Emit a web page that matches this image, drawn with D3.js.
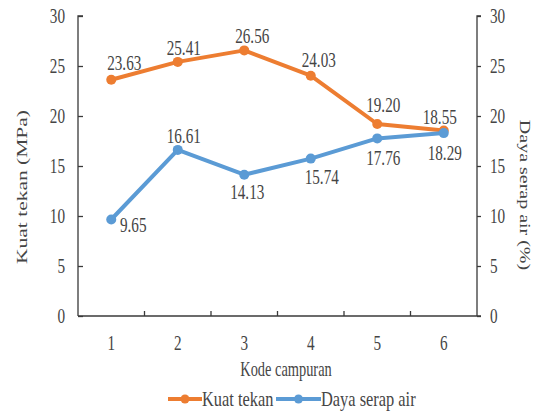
<!DOCTYPE html>
<html><head><meta charset="utf-8">
<script src="https://cdn.jsdelivr.net/npm/d3@7"></script>
<style>body{margin:0;background:#fff}svg{display:block}</style>
</head><body>
<svg id="c" width="539" height="412"></svg>
<script>
const categories = ["1","2","3","4","5","6"];
const kuatTekan = [23.63, 25.41, 26.56, 24.03, 19.20, 18.55];
const dayaSerap = [9.65, 16.61, 14.13, 15.74, 17.76, 18.29];
const yTicks = [0,5,10,15,20,25,30];

const svg = d3.select("#c");
const FONT = "'Liberation Serif','Times New Roman',serif";
const TXT = "#454545";
const SX = 0.76;
const x = d3.scaleBand().domain(categories).range([78, 477]);
const yL = d3.scaleLinear().domain([0,30]).range([316, 16]);
const yR = d3.scaleLinear().domain([0,30]).range([316, 16]);
const cx = d => x(d) + x.bandwidth()/2;

// data label placement (offset of label centre from its point, px)
const kuatLabelOff = [[13,-17],[6,-14],[8,-14],[8,-16],[6,-19],[-4,-14]];
const dayaLabelOff = [[22,5],[6,-14],[3,17],[11,18],[6,20],[1,20]];

function txt(g, s, tx, ty, anchor, size, sx, rot) {
  const t = g.append("text").text(s)
    .attr("font-family", FONT).attr("font-size", size || 20)
    .attr("fill", TXT).attr("text-anchor", anchor || "middle");
  if (rot) t.attr("transform", `translate(${tx},${ty}) rotate(${rot}) scale(1,${sx||SX})`);
  else t.attr("transform", `translate(${tx},${ty}) scale(${sx||SX},1)`);
  return t;
}

// left axis
const gL = svg.append("g").attr("transform","translate(78,0)")
  .call(d3.axisRight(yL).tickValues(yTicks).tickSize(5).tickFormat(""));
gL.select(".domain").attr("stroke","#3a3a3a").attr("stroke-width",1.3).attr("d","M5,16H0V316");
gL.selectAll(".tick line").attr("stroke","#3a3a3a").attr("stroke-width",1.3);
// right axis
const gR = svg.append("g").attr("transform","translate(477,0)")
  .call(d3.axisRight(yR).tickValues(yTicks).tickSize(4).tickFormat(""));
gR.select(".domain").attr("stroke","#3a3a3a").attr("stroke-width",1.3).attr("d","M4,16H0V316");
gR.selectAll(".tick line").attr("stroke","#3a3a3a").attr("stroke-width",1.3);
// bottom axis
const gB = svg.append("g").attr("transform","translate(0,316)");
gB.append("line").attr("x1",78).attr("x2",481).attr("stroke","#3a3a3a").attr("stroke-width",1.3);
categories.slice(1).forEach(c => {
  gB.append("line").attr("x1",x(c)).attr("x2",x(c)).attr("y1",0).attr("y2",-5)
    .attr("stroke","#3a3a3a").attr("stroke-width",1.3);
});

const tg = svg.append("g");
yTicks.forEach(v => {
  txt(tg, v, 65, yL(v)+7, "end");
  txt(tg, v, 490, yR(v)+7, "start");
});
categories.forEach(c => txt(tg, c, cx(c), 350, "middle"));
txt(tg, "Kode campuran", 286, 376, "middle", 20, 0.72);
txt(tg, "Kuat tekan (MPa)", 27, 187, "middle", 21.5, 0.68, -90);
txt(tg, "Daya serap air (%)", 520, 195, "middle", 20, 0.72, 90);

function series(vals, scale, color, off) {
  const g = svg.append("g");
  const line = d3.line().x((d,i)=>cx(categories[i])).y(d=>scale(d));
  g.append("path").attr("d", line(vals)).attr("fill","none")
    .attr("stroke", color).attr("stroke-width",4).attr("stroke-linejoin","round");
  g.selectAll("circle").data(vals).join("circle")
    .attr("cx",(d,i)=>cx(categories[i])).attr("cy",d=>scale(d)).attr("r",5).attr("fill",color);
  vals.forEach((v,i) => {
    const px = cx(categories[i]), py = scale(v);
    txt(tg, v.toFixed(2), px + off[i][0], py + off[i][1] + 7, "middle");
  });
}
series(kuatTekan, yL, "#ED7D31", kuatLabelOff);
series(dayaSerap, yR, "#5B9BD5", dayaLabelOff);

// legend
const lg = svg.append("g");
[[168, 202, "#ED7D31", "Kuat tekan"], [276, 321, "#5B9BD5", "Daya serap air"]].forEach(([a,b,col,lab]) => {
  lg.append("line").attr("x1",a).attr("x2",b).attr("y1",399).attr("y2",399)
    .attr("stroke",col).attr("stroke-width",4);
  lg.append("circle").attr("cx",(a+b)/2).attr("cy",399).attr("r",4.5).attr("fill",col);
  txt(lg, lab, b, 406, "start", 20, 0.82);
});
</script>
</body></html>
